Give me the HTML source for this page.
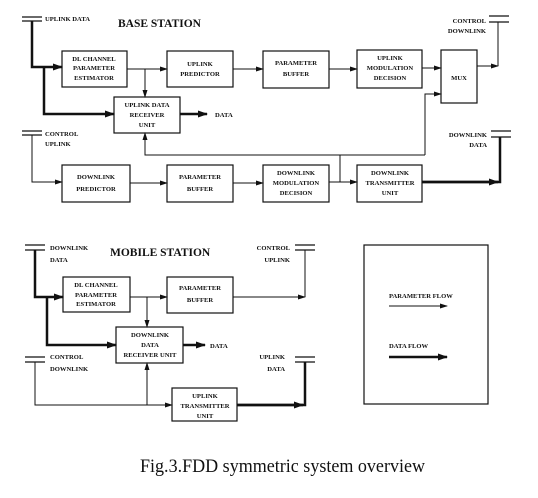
<!DOCTYPE html>
<html><head><meta charset="utf-8"><style>
html,body{margin:0;padding:0;background:#fff;}
svg{display:block;}
text{font-family:"Liberation Serif",serif;font-weight:bold;fill:#111;}
.b{font-size:6.6px;}
</style></head><body>
<svg width="538" height="498" viewBox="0 0 538 498" xmlns="http://www.w3.org/2000/svg">
<defs>
<marker id="a" markerWidth="8" markerHeight="6" refX="7" refY="3" orient="auto" markerUnits="userSpaceOnUse"><path d="M0,0.5 L8,3 L0,5.5 z" fill="#111"/></marker>
<marker id="A" markerWidth="10" markerHeight="8" refX="9" refY="4" orient="auto" markerUnits="userSpaceOnUse"><path d="M0,0.5 L10,4 L0,7.5 z" fill="#111"/></marker>
</defs>
<g stroke="#111" fill="none">
<path d="M22 17H42M22 21H42" stroke-width="1.3"/>
<path d="M22 131H42M22 135H42" stroke-width="1.3"/>
<path d="M489 16H509M489 22H509" stroke-width="1.3"/>
<path d="M491 131H511M491 137H511" stroke-width="1.3"/>
<g stroke-width="1.2">
<rect x="62" y="51" width="65" height="36"/>
<rect x="167" y="51" width="66" height="36"/>
<rect x="263" y="51" width="66" height="37"/>
<rect x="357" y="50" width="65" height="38"/>
<rect x="441" y="50" width="36" height="53"/>
<rect x="114" y="97" width="66" height="36"/>
<rect x="62" y="165" width="68" height="37"/>
<rect x="167" y="165" width="66" height="37"/>
<rect x="263" y="165" width="66" height="37"/>
<rect x="357" y="165" width="65" height="37"/>
</g>
<path d="M32 21V67H62" stroke-width="2.5" marker-end="url(#A)"/>
<path d="M44 67V114H114" stroke-width="2.5" marker-end="url(#A)"/>
<path d="M180 114H207" stroke-width="2.5" marker-end="url(#A)"/>
<path d="M422 182H500V137" stroke-width="2.5"/>
<path d="M422 182H498" stroke-width="2.5" marker-end="url(#A)"/>
<g stroke-width="1">
<path d="M127 69H167" marker-end="url(#a)"/>
<path d="M145 69V97" marker-end="url(#a)"/>
<path d="M233 69H263" marker-end="url(#a)"/>
<path d="M329 69H357" marker-end="url(#a)"/>
<path d="M422 68H441" marker-end="url(#a)"/>
<path d="M477 66H498" marker-end="url(#a)"/>
<path d="M498 66V22"/>
<path d="M425 155V94H441" marker-end="url(#a)"/>
<path d="M425 155H145V133" marker-end="url(#a)"/>
<path d="M340 155V182"/>
<path d="M32 135V182H62" marker-end="url(#a)"/>
<path d="M130 183H167" marker-end="url(#a)"/>
<path d="M233 183H263" marker-end="url(#a)"/>
<path d="M329 182H357" marker-end="url(#a)"/>
</g>
<path d="M25 245H45M25 250H45" stroke-width="1.3"/>
<path d="M25 357H45M25 362H45" stroke-width="1.3"/>
<path d="M295 245H315M295 250H315" stroke-width="1.3"/>
<path d="M295 357H315M295 362H315" stroke-width="1.3"/>
<g stroke-width="1.2">
<rect x="63" y="277" width="67" height="35"/>
<rect x="167" y="277" width="66" height="36"/>
<rect x="116" y="327" width="67" height="36"/>
<rect x="172" y="388" width="65" height="33"/>
<rect x="364" y="245" width="124" height="159"/>
</g>
<path d="M35 250V297H63" stroke-width="2.5" marker-end="url(#A)"/>
<path d="M47 297V345H116" stroke-width="2.5" marker-end="url(#A)"/>
<path d="M183 345H205" stroke-width="2.5" marker-end="url(#A)"/>
<path d="M237 405H305V362" stroke-width="2.5"/>
<path d="M237 405H303" stroke-width="2.5" marker-end="url(#A)"/>
<g stroke-width="1">
<path d="M130 297H167" marker-end="url(#a)"/>
<path d="M147 297V327" marker-end="url(#a)"/>
<path d="M233 297H305" marker-end="url(#a)"/>
<path d="M305 297V250"/>
<path d="M35 362V405H172" marker-end="url(#a)"/>
<path d="M147 405V363" marker-end="url(#a)"/>
<path d="M389 306H447" marker-end="url(#a)"/>
</g>
<path d="M389 357H447" stroke-width="2.5" marker-end="url(#A)"/>
</g>
<g class="b">
<text x="45" y="21">UPLINK DATA</text>
<text x="45" y="136">CONTROL</text><text x="45" y="146">UPLINK</text>
<text x="486" y="23" text-anchor="end">CONTROL</text><text x="486" y="33" text-anchor="end">DOWNLINK</text>
<text x="487" y="137" text-anchor="end">DOWNLINK</text><text x="487" y="147" text-anchor="end">DATA</text>
<text x="215" y="117">DATA</text>
<g text-anchor="middle">
<text x="94" y="61">DL CHANNEL</text><text x="94" y="70">PARAMETER</text><text x="94" y="80">ESTIMATOR</text>
<text x="200" y="66">UPLINK</text><text x="200" y="76">PREDICTOR</text>
<text x="296" y="65">PARAMETER</text><text x="296" y="76">BUFFER</text>
<text x="390" y="60">UPLINK</text><text x="390" y="70">MODULATION</text><text x="390" y="80">DECISION</text>
<text x="459" y="80">MUX</text>
<text x="147" y="107">UPLINK DATA</text><text x="147" y="117">RECEIVER</text><text x="147" y="127">UNIT</text>
<text x="96" y="179">DOWNLINK</text><text x="96" y="191">PREDICTOR</text>
<text x="200" y="179">PARAMETER</text><text x="200" y="191">BUFFER</text>
<text x="296" y="175">DOWNLINK</text><text x="296" y="185">MODULATION</text><text x="296" y="195">DECISION</text>
<text x="390" y="175">DOWNLINK</text><text x="390" y="185">TRANSMITTER</text><text x="390" y="195">UNIT</text>
<text x="96" y="287">DL CHANNEL</text><text x="96" y="297">PARAMETER</text><text x="96" y="306">ESTIMATOR</text>
<text x="200" y="290">PARAMETER</text><text x="200" y="302">BUFFER</text>
<text x="150" y="337">DOWNLINK</text><text x="150" y="347">DATA</text><text x="150" y="357">RECEIVER UNIT</text>
<text x="205" y="398">UPLINK</text><text x="205" y="408">TRANSMITTER</text><text x="205" y="418">UNIT</text>
</g>
<text x="50" y="250">DOWNLINK</text><text x="50" y="262">DATA</text>
<text x="50" y="359">CONTROL</text><text x="50" y="371">DOWNLINK</text>
<text x="290" y="250" text-anchor="end">CONTROL</text><text x="290" y="262" text-anchor="end">UPLINK</text>
<text x="285" y="359" text-anchor="end">UPLINK</text><text x="285" y="371" text-anchor="end">DATA</text>
<text x="210" y="348">DATA</text>
<text x="389" y="298">PARAMETER FLOW</text>
<text x="389" y="348">DATA FLOW</text>
</g>
<text x="118" y="27" style="font-size:11.5px">BASE STATION</text>
<text x="110" y="256" style="font-size:11.5px">MOBILE STATION</text>
<text x="140" y="472" textLength="285" lengthAdjust="spacingAndGlyphs" style="font-size:19px;font-weight:normal">Fig.3.FDD symmetric system overview</text>
</svg>
</body></html>
